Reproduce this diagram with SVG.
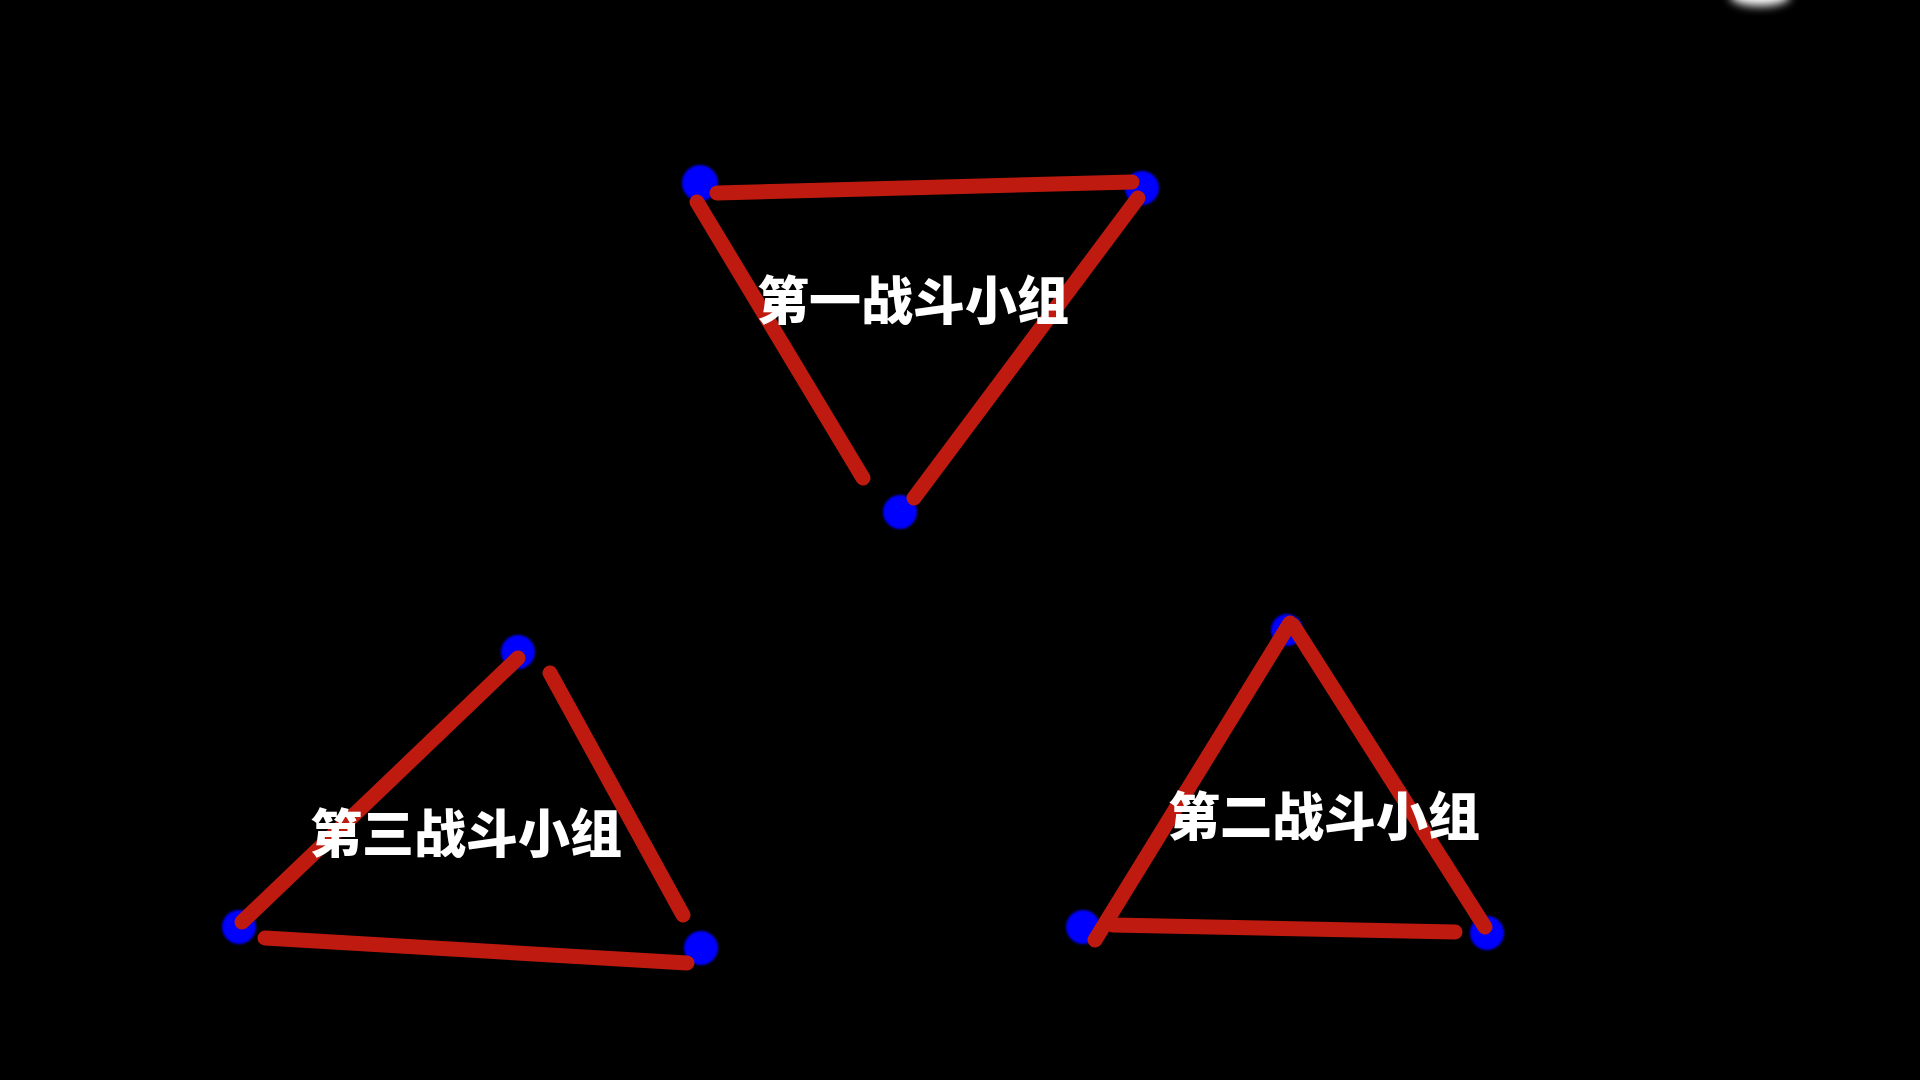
<svg xmlns="http://www.w3.org/2000/svg" width="1920" height="1080" viewBox="0 0 1920 1080">
<defs>
<filter id="soft" x="-50%" y="-50%" width="200%" height="200%"><feGaussianBlur stdDeviation="1.2"/></filter>
<filter id="glow" x="-100%" y="-300%" width="300%" height="700%"><feGaussianBlur stdDeviation="5"/></filter>
</defs>
<style>
.dot{fill:#0000ff;filter:url(#soft)}
.edge{stroke:#bf1a10;stroke-width:15;stroke-linecap:round;fill:none}
.label{font-family:"Noto Sans CJK SC","Noto Sans",sans-serif;font-weight:900;font-size:52px;fill:#ffffff;text-anchor:middle}
</style>
<rect width="1920" height="1080" fill="#000000"/>
<ellipse cx="1760" cy="-4" rx="30" ry="10" fill="#ffffff" filter="url(#glow)"/>
<g id="group1-dots">
<circle class="dot" cx="700" cy="183" r="18"/>
<circle class="dot" cx="1142" cy="188" r="17"/>
<circle class="dot" cx="900" cy="512" r="17"/>
</g>
<g id="group2-dots">
<circle class="dot" cx="1287" cy="630" r="16"/>
<circle class="dot" cx="1083" cy="927" r="17"/>
<circle class="dot" cx="1487" cy="933" r="17"/>
</g>
<g id="group3-dots">
<circle class="dot" cx="518" cy="652" r="17"/>
<circle class="dot" cx="239" cy="927" r="17"/>
<circle class="dot" cx="701" cy="948" r="17"/>
</g>
<g id="connectors">
<line class="edge" x1="717" y1="193" x2="1132" y2="182"/>
<line class="edge" x1="697" y1="202" x2="863" y2="478"/>
<line class="edge" x1="1138" y1="198" x2="914" y2="498"/>
<line class="edge" x1="1095" y1="940" x2="1290" y2="623"/>
<line class="edge" x1="1293" y1="625" x2="1485" y2="927"/>
<line class="edge" x1="1113" y1="925" x2="1455" y2="932"/>
<line class="edge" x1="242" y1="922" x2="518" y2="658"/>
<line class="edge" x1="550" y1="673" x2="683" y2="915"/>
<line class="edge" x1="265" y1="938" x2="687" y2="963"/>
</g>
<g id="label1"><text class="label" x="913" y="320">第一战斗小组</text></g>
<g id="label2"><text class="label" x="1324" y="836">第二战斗小组</text></g>
<g id="label3"><text class="label" x="466" y="853">第三战斗小组</text></g>
</svg>
